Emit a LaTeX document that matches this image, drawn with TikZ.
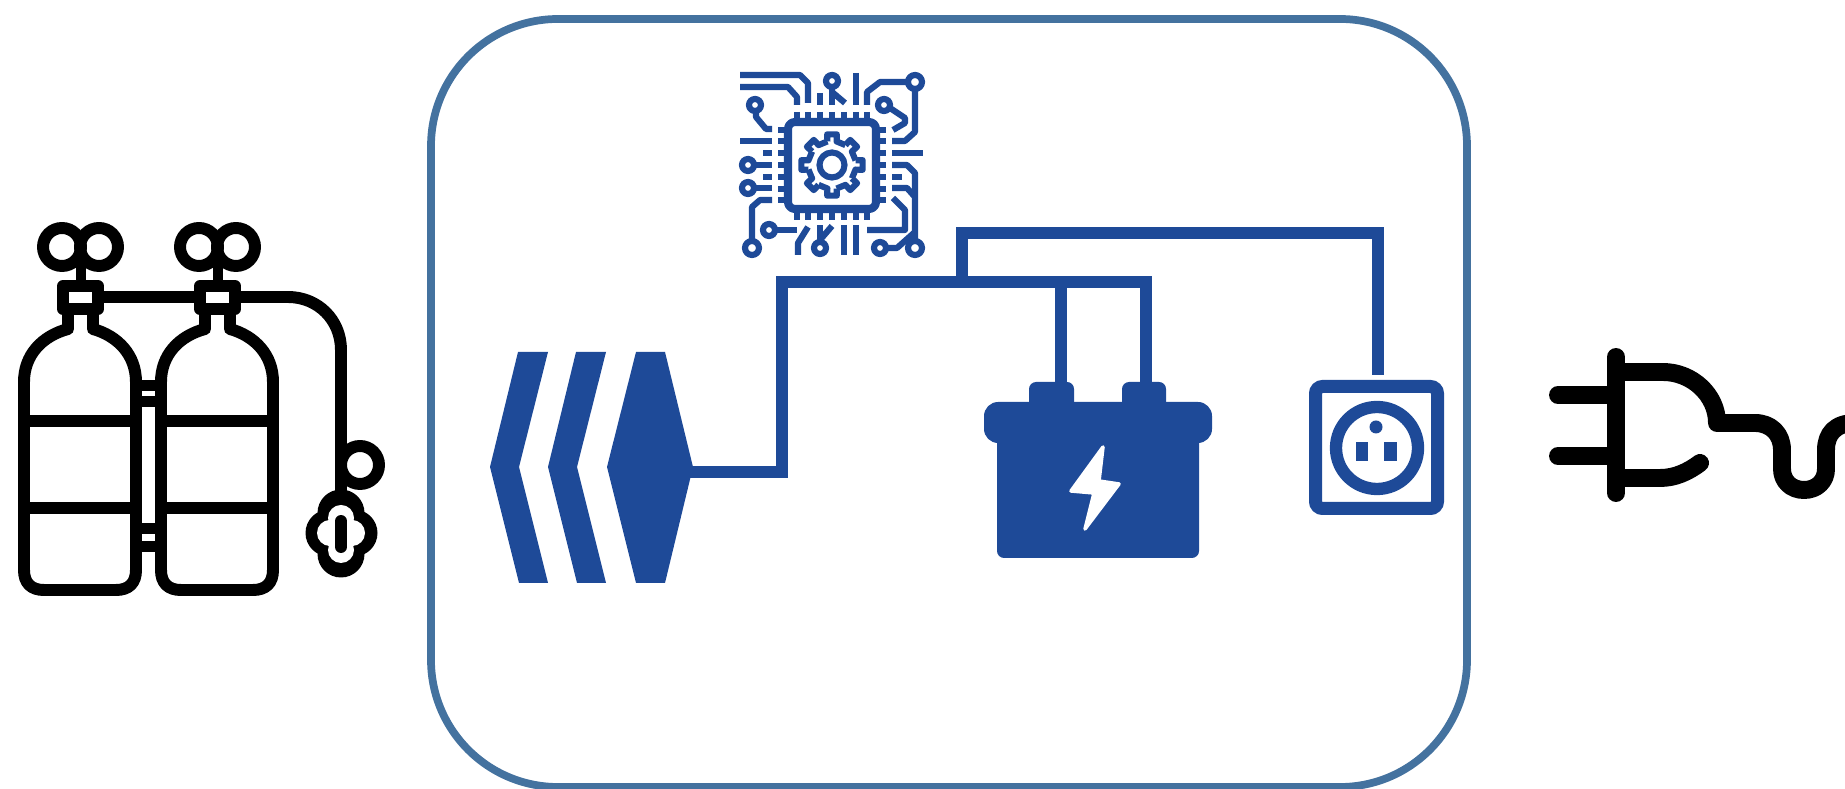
\documentclass[tikz,border=0pt]{standalone}
\usepackage{xcolor}
\usetikzlibrary{positioning}
\definecolor{wireblue}{HTML}{1E4A98}
\definecolor{boxblue}{HTML}{44729F}

\begin{document}
\begin{tikzpicture}[
  x=0.01cm, y=-0.01cm,
  housing/.style={draw=boxblue, line width=2.2pt, rounded corners=1.27cm},
  tankline/.style={draw=black, line width=3.4pt, line join=round},
  plugline/.style={draw=black, line width=5.1pt, line cap=round, line join=round},
  wire/.style={draw=wireblue, line width=3.5pt, line join=miter},
  solid part/.style={fill=wireblue, draw=none},
  trace/.style={draw=wireblue, line width=1.75pt, line join=round}
]
  \useasboundingbox (0,0) rectangle (1845,789);

  % Housing
  \draw[housing] (431,19) rectangle (1467,787);

  % Gas bottles
  \foreach \dx in {0,137} {
    \begin{scope}[shift={(\dx,0)}]
      \draw[tankline] (68,312) -- (68,329) .. controls (42,336) and (24,355) .. (24,382)
        -- (24,570) .. controls (24,583) and (31,590) .. (44,590) -- (116,590)
        .. controls (129,590) and (136,583) .. (136,570) -- (136,382)
        .. controls (136,355) and (118,336) .. (93,329) -- (93,312);
      \draw[tankline] (24,421) -- (136,421);
      \draw[tankline] (24,508) -- (136,508);
      \draw[tankline] (63,286) rectangle (98,309);
      \fill[black] (76,255) rectangle (86,286);
      \draw[tankline] (62,247) circle (19);
      \draw[tankline] (99,247) circle (19);
    \end{scope}
  }
  % Clamps between the bottles
  \foreach \ya/\yb in {380/407,523/552} {
    \fill[black] (141,\ya) rectangle (156,\yb);
    \fill[white] (142,\ya+11) rectangle (155,\yb-11);
  }
  % Hose and gauge
  \coordinate (hosea) at (98,297);
  \coordinate (hoseb) at (200,297);
  \coordinate (hosec) at (235,297);
  \coordinate (hosed) at (341,492);
  \draw[tankline] (hosea) -- (hoseb);
  \draw[tankline] (hosec) -- (288,297) .. controls (318,297) and (341,320) .. (341,350) -- (hosed);
  \draw[tankline] (360,465) circle (19);
  % Regulator
  \foreach \cx/\cy in {341/513,341/554,329/533,354/533} {
    \fill[black] (\cx,\cy) circle (23.5);
  }
  \foreach \cx/\cy in {341/518,341/550,330/533,352/533} {
    \fill[white] (\cx,\cy) circle (13);
  }
  \fill[white] (341,533) circle (18);
  \draw[tankline, line cap=round] (341,521) -- (341,547);

  % Thruster
  \foreach \dx in {0,58} {
    \fill[solid part] (518+\dx,352) -- (548+\dx,352) -- (519+\dx,467) -- (548+\dx,583)
      -- (519+\dx,583) -- (490+\dx,467) -- cycle;
  }
  \fill[solid part] (636,352) -- (665,352) -- (693,467) -- (665,583) -- (636,583) -- (607,467) -- cycle;

  % Battery
  \fill[solid part, rounded corners=2pt] (997,430) rectangle (1199,558);
  \fill[solid part, rounded corners=4pt] (984,402) rectangle (1212,443);
  \fill[solid part, rounded corners=2pt] (1029,382) rectangle (1074,410);
  \fill[solid part, rounded corners=2pt] (1122,382) rectangle (1166,410);
  \fill[white, draw=white, line width=1pt, line join=round] (1103,447) -- (1071,491) -- (1094,493)
    -- (1085,529) -- (1119,484) -- (1099,481) -- cycle;

  % Socket
  \draw[wireblue, line width=3.7pt, rounded corners=2pt] (1315.5,386.5) rectangle (1437.5,508.5);
  \draw[wireblue, line width=3.5pt] (1377,448) circle (41);
  \fill[wireblue] (1376,427) circle (6.5);
  \fill[wireblue] (1356,442) rectangle (1368,461);
  \fill[wireblue] (1384,442) rectangle (1397,461);

  % Wiring
  \coordinate (thrusterport) at (688,472);
  \coordinate (busleft) at (782,282);
  \coordinate (busbat) at (1146,282);
  \coordinate (batminus) at (1061,386);
  \coordinate (batplus) at (1146,386);
  \coordinate (busup) at (962,282);
  \coordinate (socketport) at (1378,375);
  \draw[wire] (thrusterport) -| (busleft) -- (busbat) -- (batplus);
  \draw[wire] (batminus) -- (batminus |- busbat);
  \draw[wire] (busup) |- (1378,233) -- (socketport);

  % Chip
  \draw[trace, line width=2.3pt, rounded corners=2pt] (788,122) rectangle (876,209);
  \foreach \k in {-3,...,3} {
    \draw[trace] (832+\k*11.8,112) -- (832+\k*11.8,122);
    \draw[trace] (832+\k*11.8,210) -- (832+\k*11.8,220);
    \draw[trace] (778,165+\k*11.8) -- (788,165+\k*11.8);
    \draw[trace] (876,165+\k*11.8) -- (886,165+\k*11.8);
  }
  % Gear
  \begin{scope}[shift={(832,165)}]
    \draw[trace] (0,0) circle (12.5);
    \foreach \a in {0,45,...,315} {
      \draw[trace] (\a-11:24) -- (\a-9:31) -- (\a+9:31) -- (\a+11:24) -- (\a+34:24);
    }
  \end{scope}
  % Chip traces
  \foreach \cx/\cy/\r in {755/105/6,748/165/6,748/188/6,752/248/7,769/230/6,820/248/6,832/81/6,915/82/7,884/105/6,880/248/6,915/248/7} {
    \draw[trace] (\cx,\cy) circle (\r);
  }
  \draw[trace] (740,75) -- (800,75) -- (808,83) -- (808,103);
  \draw[trace] (740,87) -- (788,87) -- (797,97) -- (797,105);
  \draw[trace] (756,112) -- (756,117) -- (766,129) -- (772,129);
  \draw[trace] (740,141) -- (772,141);
  \draw[trace] (763,153) -- (772,153);
  \draw[trace] (755,165) -- (772,165);
  \draw[trace] (763,177) -- (772,177);
  \draw[trace] (755,188) -- (772,188);
  \draw[trace] (772,200) -- (760,200) -- (752,207) -- (752,241);
  \draw[trace] (776,230) -- (797,230);
  \draw[trace] (798,255) -- (798,243) -- (808,227);
  \draw[trace] (820,242) -- (820,225);
  \draw[trace] (820,240) -- (832,226);
  \draw[trace] (844,225) -- (844,255);
  \draw[trace] (856,225) -- (856,255);
  \draw[trace] (820,93) -- (820,105);
  \draw[trace] (832,88) -- (832,105);
  \draw[trace] (832,92) -- (845,103);
  \draw[trace] (856,73) -- (856,105);
  \draw[trace] (907,82) -- (880,82) -- (867,92) -- (867,105);
  \draw[trace] (915,89) -- (915,132) -- (905,141) -- (892,141);
  \draw[trace] (890,108) -- (905,118) -- (905,123) -- (893,130);
  \draw[trace] (892,153) -- (923,153);
  \draw[trace] (892,165) -- (907,165) -- (915,173) -- (915,241);
  \draw[trace] (892,177) -- (902,177);
  \draw[trace] (892,188) -- (907,188) -- (915,197);
  \draw[trace] (893,198) -- (905,210) -- (905,230) -- (867,230);
  \draw[trace] (887,248) -- (897,248) -- (915,232);

  % Plug and cable
  \draw[plugline] (1616,357) -- (1616,493);
  \draw[plugline] (1558,395) -- (1616,395);
  \draw[plugline] (1558,456) -- (1616,456);
  \draw[plugline] (1616,372) -- (1663,372) .. controls (1692,372) and (1717,395) .. (1717,423)
    -- (1755,423) .. controls (1771,423) and (1782,434) .. (1782,450) -- (1782,469)
    .. controls (1782,481) and (1791,490) .. (1804,490) .. controls (1817,490) and (1826,481) .. (1826,469)
    -- (1826,450) .. controls (1826,434) and (1835,423) .. (1855,423);
  \draw[plugline] (1616,478) -- (1660,478) .. controls (1675,478) and (1688,472) .. (1700,463);
\end{tikzpicture}
\end{document}
